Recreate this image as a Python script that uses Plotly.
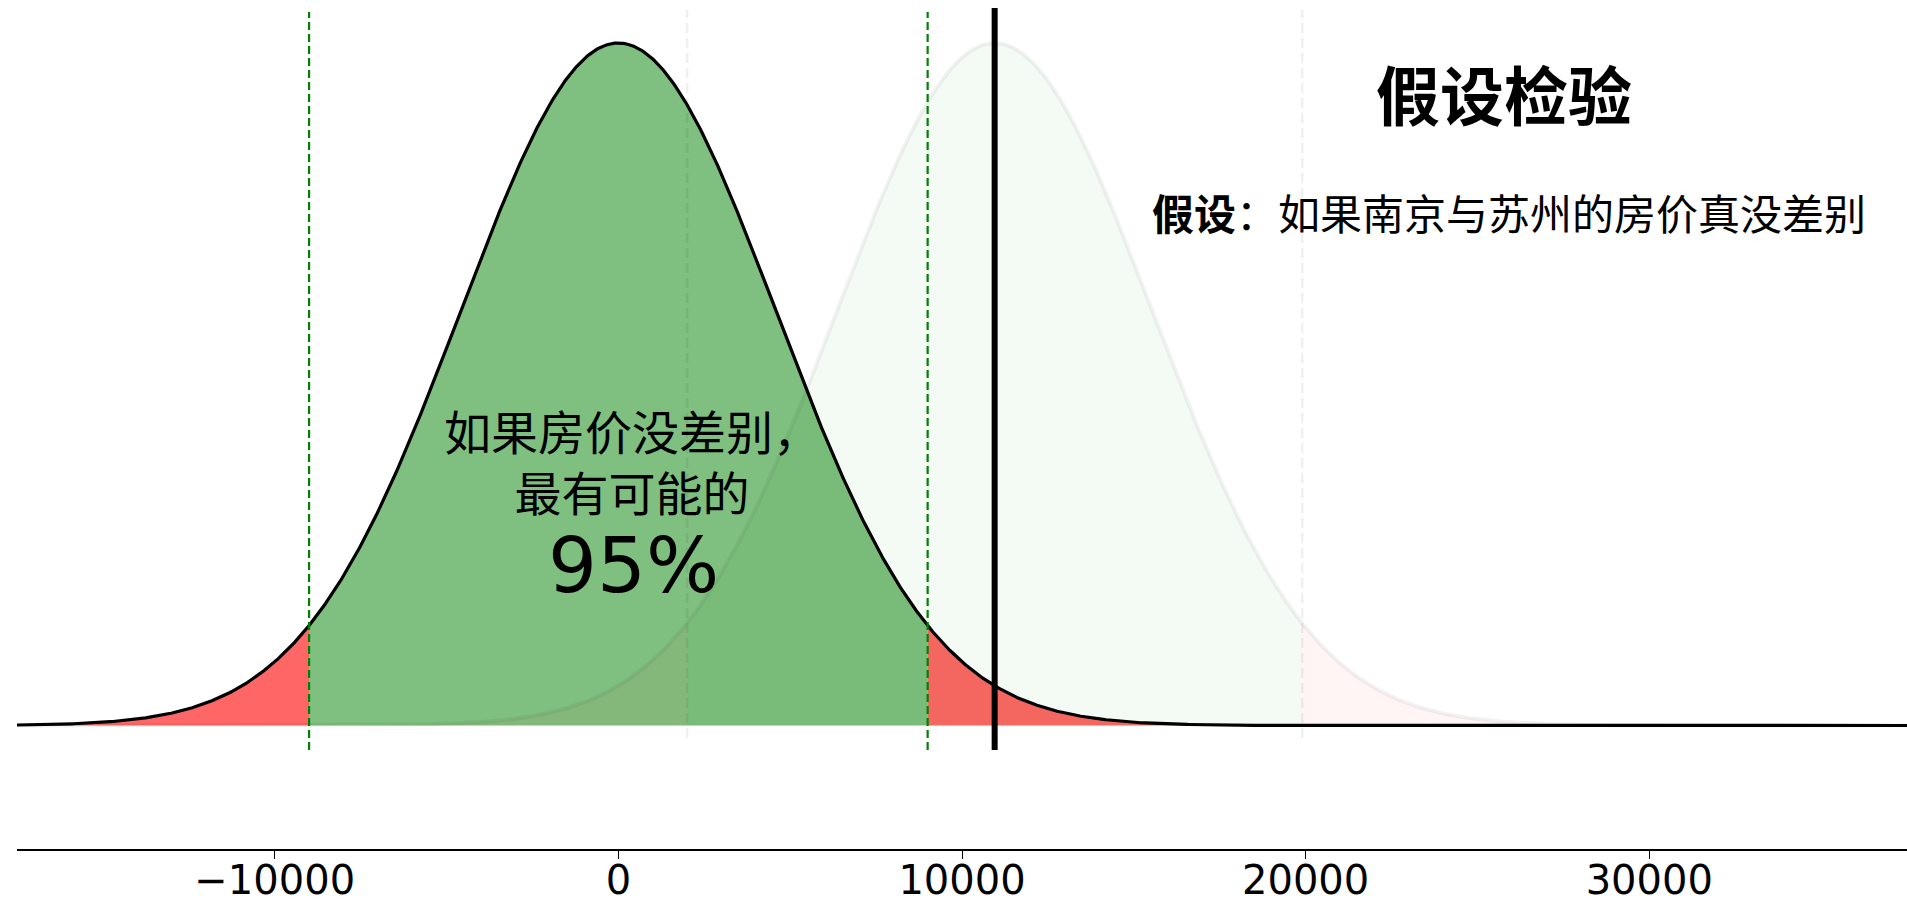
import numpy as np
import plotly.graph_objects as go

# ---- values ----
null_mean = 0            # centre of the "no difference" distribution
alt_mean = 10950         # centre of the faint distribution / observed difference
sigma = 4592             # spread (95% interval = +/- 9000)
ci_low = -9000           # 95% critical values
ci_high = 9000
alt_ci_low = 2000
alt_ci_high = 19900
observed_diff = 10950    # thick black line
x_min = -17500
x_max = 37500
tick_values = [-10000, 0, 10000, 20000, 30000]
tick_labels = ["−10000", "0", "10000", "20000", "30000"]

title_text = "假设检验"
subtitle_text = "<b>假设</b>：如果南京与苏州的房价真没差别"
inner_lines = ["如果房价没差别，", "最有可能的"]
inner_pct = "95%"


def pdf(x, mu, s):
    return np.exp(-0.5 * ((x - mu) / s) ** 2) / (s * np.sqrt(2 * np.pi))


peak = pdf(0, 0, sigma)

W, H = 1907, 901
L, R, T, B = 17, 0, 0, 52
plot_w = W - L - R
plot_h = H - T - B


def px_x(px):
    return (px - L) / plot_w


def px_y(py):
    return (H - B - py) / plot_h


fig = go.Figure()


def add_fill(x0, x1, mu, color):
    xs = np.linspace(x0, x1, 400)
    fig.add_trace(go.Scatter(x=xs, y=pdf(xs, mu, sigma), mode="lines",
                             line=dict(width=0), fill="tozeroy",
                             fillcolor=color, hoverinfo="skip", showlegend=False))


# main (null) distribution fills
add_fill(x_min, ci_low, null_mean, "rgba(255,0,0,0.6)")
add_fill(ci_low, ci_high, null_mean, "rgba(0,128,0,0.5)")
add_fill(ci_high, x_max, null_mean, "rgba(255,0,0,0.6)")

# faint alternative distribution
add_fill(x_min, alt_ci_low, alt_mean, "rgba(255,0,0,0.04)")
add_fill(alt_ci_low, alt_ci_high, alt_mean, "rgba(0,128,0,0.045)")
add_fill(alt_ci_high, x_max, alt_mean, "rgba(255,0,0,0.04)")
xs_all = np.linspace(x_min, x_max, 1500)
fig.add_trace(go.Scatter(x=xs_all, y=pdf(xs_all, alt_mean, sigma), mode="lines",
                         line=dict(color="rgba(0,0,0,0.05)", width=4),
                         hoverinfo="skip", showlegend=False))

# main curve outline
fig.add_trace(go.Scatter(x=xs_all, y=pdf(xs_all, null_mean, sigma), mode="lines",
                         line=dict(color="black", width=3.2),
                         hoverinfo="skip", showlegend=False))

# vertical lines
for xv in [alt_ci_low, alt_ci_high]:
    fig.add_shape(type="line", x0=xv, x1=xv, xref="x", yref="paper",
                  y0=px_y(738), y1=px_y(10),
                  line=dict(color="rgba(0,0,0,0.06)", width=2.5, dash="10px,5px"),
                  layer="above")
for xv in [ci_low, ci_high]:
    fig.add_shape(type="line", x0=xv, x1=xv, xref="x", yref="paper",
                  y0=px_y(750), y1=px_y(12),
                  line=dict(color="#008000", width=2.2, dash="8px,4px"),
                  layer="above")
fig.add_shape(type="line", x0=observed_diff, x1=observed_diff, xref="x", yref="paper",
              y0=px_y(750), y1=px_y(8),
              line=dict(color="black", width=6), layer="above")

cjk = "Noto Sans CJK SC"


def note(text, cx, cy, family, size):
    fig.add_annotation(text=text, xref="paper", yref="paper",
                       x=px_x(cx), y=px_y(cy), xanchor="center", yanchor="middle",
                       align="center", showarrow=False,
                       font=dict(family=family, size=size, color="black"))


note(f"<b>{title_text}</b>", 1504, 92, cjk, 64)
note(subtitle_text, 1509, 211, cjk, 42)
note("<br>".join(inner_lines), 632, 460, cjk, 47)
note(inner_pct, 633, 565, "DejaVu Sans", 77)

span = plot_h / (725.5 - 43) * peak
y_lo = -(H - B - 725.5) / plot_h * span

fig.update_layout(
    width=W, height=H, autosize=False,
    margin=dict(l=L, r=R, t=T, b=B, pad=0),
    paper_bgcolor="white", plot_bgcolor="white",
    showlegend=False,
    xaxis=dict(range=[x_min, x_max], tickvals=tick_values, ticktext=tick_labels,
               showgrid=False, zeroline=False, showline=True, linecolor="black",
               linewidth=2, ticks="outside", ticklen=8, tickwidth=1.2,
               tickcolor="black", automargin=False, ticklabelstandoff=-13,
               tickfont=dict(family="DejaVu Sans", size=40, color="black")),
    yaxis=dict(range=[y_lo, y_lo + span], visible=False, showgrid=False,
               zeroline=False, automargin=False),
)

fig.write_html("out.html",
               config={"displayModeBar": False},
               post_script="document.body.style.margin='0';document.body.style.overflow='hidden';")
